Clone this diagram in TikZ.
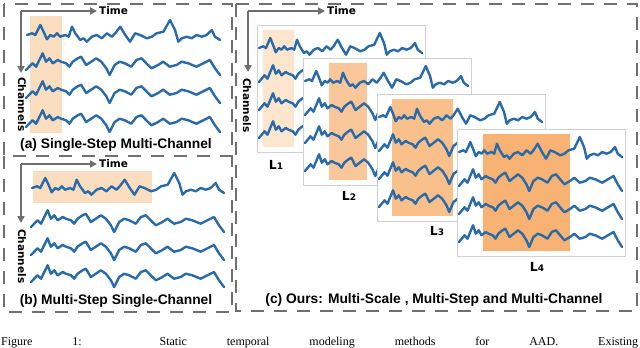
\documentclass[tikz,border=0pt]{standalone}
\usepackage{fontspec}
\setmainfont{Liberation Serif}
\setsansfont{Liberation Sans}
\newfontfamily\vfont{DejaVu Sans}
\usetikzlibrary{arrows.meta}

\definecolor{wblue}{HTML}{2A6AA8}
\definecolor{axgray}{HTML}{6E6E6E}
\definecolor{boxgray}{HTML}{707070}
\definecolor{hlA}{HTML}{FBDDC0}
\definecolor{hlLa}{HTML}{FDE5CE}
\definecolor{hlLb}{HTML}{FAC79A}
\definecolor{hlLc}{HTML}{FAC08C}
\definecolor{hlLd}{HTML}{F8B274}
\definecolor{framegray}{HTML}{D0D0D0}

\tikzset{
 wave/.style={wblue, line width=2.4pt, line join=round, line cap=round},
 dbox/.style={boxgray, line width=2.4pt, dash pattern=on 13pt off 10pt},
 axisarrow/.style={axgray, line width=1.7pt, -{Triangle[length=7pt,width=7pt]}},
 lframe/.style={draw=framegray, fill=white, line width=0.9pt},
 tlabel/.style={font=\vfont\bfseries\fontsize{10.5}{12}\selectfont, inner sep=0pt, anchor=west},
 clabel/.style={font=\vfont\bfseries\fontsize{10.5}{12}\selectfont, inner sep=0pt, rotate=-90, anchor=west},
 plabel/.style={font=\sffamily\bfseries\fontsize{13.8}{15}\selectfont, inner sep=0pt},
 llabel/.style={font=\vfont\bfseries\fontsize{12.5}{13}\selectfont, inner sep=0pt},
}

\newcommand{\waveA}[3]{\begin{scope}[shift={(#1,#2)},xscale=#3/100]
\draw[wave] plot coordinates{(0,0) (2.6,-1.7) (4.3,0) (6.9,-10) (8.6,-3.3) (10.3,4.3) (12.1,0) (13.8,1.7) (15.5,-1.7) (17.2,1.7) (19.8,0) (21.6,1.7) (23.3,-8.3) (25,-1.7) (27.6,5) (29.3,3.3) (31,6.7) (33.6,1.7) (36.2,0) (38.8,3.3) (41.4,-1.7) (44,1.7) (45.7,-1.7) (48.3,-8.3) (50.9,0) (53.4,6.7) (56,-1.7) (58.6,0) (62.1,3.3) (64.7,1.7) (67.2,-1.7) (70.7,-3.3) (74.1,-15) (76.7,-5) (78.4,6.7) (80.2,3.3) (82.8,1.7) (85.3,3.3) (87.9,0) (90.5,1.7) (93.1,0) (95.7,-5) (97.4,1.7) (100,5)};
\end{scope}}
\newcommand{\waveB}[3]{\begin{scope}[shift={(#1,#2)},xscale=#3/100]
\draw[wave] plot coordinates{(0,5) (3.4,-1.7) (5.2,1.7) (8.6,-11.7) (10.3,-3.3) (12.1,-6.7) (13.8,-1.7) (16.4,-5) (18.1,-3.3) (20.7,-1.7) (22.4,1.7) (24.1,-3.3) (26.7,-6.7) (28.4,-8.3) (31,0) (33.6,-3.3) (36.2,-6.7) (38.8,-3.3) (41.4,3.3) (43.1,10) (45.7,0) (48.3,-3.3) (50.9,-1.7) (54.3,1.7) (56.9,-5) (59.5,-6.7) (62.9,0) (64.7,3.3) (68.1,0) (70.7,-3.3) (74.1,1.7) (77.6,0) (80.2,-3.3) (83.6,-1.7) (87.9,1.7) (91.4,-1.7) (94.8,-5) (97.4,3.3) (100,10)};
\end{scope}}
% frame: x, y, hl start, hl end, colour
\newcommand{\lvlframe}[5]{
\draw[lframe] (#1,#2) rectangle ++(168,127);
\fill[#5] ({#1+#3},{#2+5}) rectangle ({#1+#4},{#2+122});
\waveA{#1+2}{#2+23}{163}
\waveB{#1+2}{#2+52}{163}
\waveB{#1+2}{#2+80}{163}
\waveB{#1+2}{#2+108}{163}
}

\begin{document}
\begin{tikzpicture}[x=1pt,y=-1pt]
\useasboundingbox (0,0) rectangle (640,348);
\clip (0,0) rectangle (640,348);

% dashed panels
\draw[dbox] (4,4) rectangle (232,156);
\draw[dbox] (4,156) -- (4,312) -- (232,312) -- (232,156);
\draw[dbox] (236,4) rectangle (637,311);

% ---- panel (a)
\fill[hlA] (30,16) rectangle (62,133);
\waveA{27}{35}{193}
\waveB{26}{65}{194}
\waveB{26}{93}{194}
\waveB{26}{122}{194}
\coordinate (oa) at (21,11);
\coordinate (ta) at (97,11);
\coordinate (ca) at (21,73);
\draw[axisarrow] (oa) -- (ta);
\draw[axisarrow] (oa) -- (ca);
\node[tlabel] (timea) at (99,11) {Time};
\node[clabel] (chana) at (22,77) {Channels};
\node[plabel] (laba) at (116,145) {(a) Single-Step Multi-Channel};

% ---- panel (b)
\fill[hlA] (33,171) rectangle (152,203);
\waveA{32}{188}{192}
\waveB{31}{222}{193}
\waveB{31}{250}{193}
\waveB{31}{277}{193}
\coordinate (ob) at (21,164);
\coordinate (tb) at (97,164);
\coordinate (cb) at (21,223);
\draw[axisarrow] (ob) -- (tb);
\draw[axisarrow] (ob) -- (cb);
\node[tlabel] (timeb) at (99,164) {Time};
\node[clabel] (chanb) at (22,229) {Channels};
\node[plabel] (labb) at (116,301) {(b) Multi-Step Single-Channel};

% ---- panel (c)
\coordinate (oc) at (248,11);
\coordinate (tc) at (325,11);
\coordinate (cc) at (248,72);
\draw[axisarrow] (oc) -- (tc);
\draw[axisarrow] (oc) -- (cc);
\node[tlabel] (timec) at (327,11) {Time};
\node[clabel] (chanc) at (247,78) {Channels};

\lvlframe{257}{25}{6}{37}{hlLa}
\lvlframe{303}{58}{26}{64}{hlLb}
\lvlframe{377}{94}{15}{76}{hlLc}
\lvlframe{457}{129}{26}{113}{hlLd}

\node[llabel] (l1) at (276,165) {L\fontsize{9}{10}\selectfont 1};
\node[llabel] (l2) at (349,196) {L\fontsize{9}{10}\selectfont 2};
\node[llabel] (l3) at (437,231) {L\fontsize{9}{10}\selectfont 3};
\node[llabel] (l4) at (537,267) {L\fontsize{9}{10}\selectfont 4};

\node[plabel] (labc) at (434,300) {(c) Ours: Multi-Scale , Multi-Step and Multi-Channel};

% caption line (cut in the reference)
\node[anchor=base west, inner sep=0pt] (cap) at (1,345) {\fontsize{12}{13}\selectfont\makebox[637pt][s]{Figure 1: Static temporal modeling methods for AAD. Existing}};
\end{tikzpicture}
\end{document}
